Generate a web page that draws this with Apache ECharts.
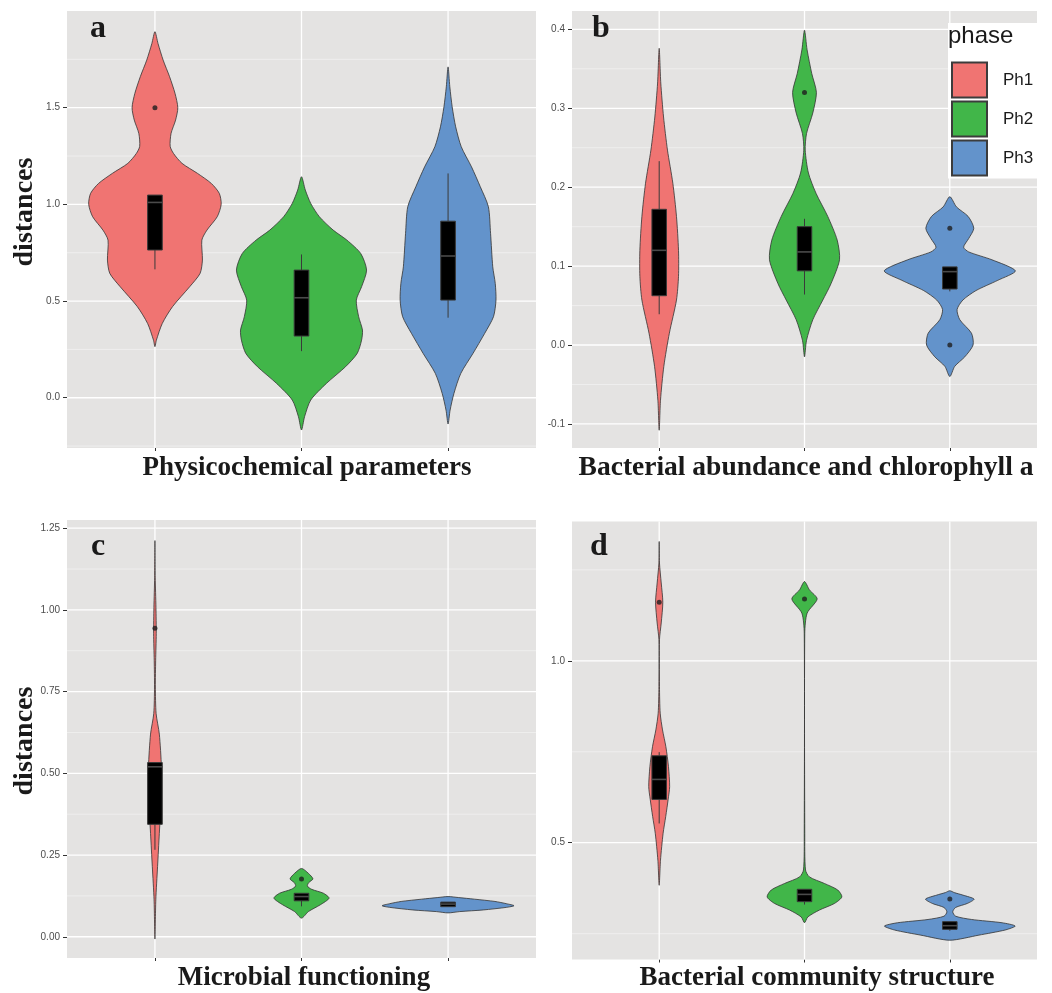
<!DOCTYPE html>
<html>
<head>
<meta charset="utf-8">
<script src="https://cdn.jsdelivr.net/npm/echarts@6/dist/echarts.min.js"></script>
<style>
  html, body { margin: 0; padding: 0; background: #ffffff; }
  #chart { width: 1052px; height: 993px; }
</style>
</head>
<body>
<div id="chart"></div>
<script>
// ---------------- DATA ----------------
const phases = ['Ph1', 'Ph2', 'Ph3'];
const phaseColors = ['#F07472', '#41B649', '#6393CB'];
const categoryPos = [1, 2, 3];
const panelLetters = ['a', 'b', 'c', 'd'];
const panelTitles = ['Physicochemical parameters', 'Bacterial abundance and chlorophyll a',
                     'Microbial functioning', 'Bacterial community structure'];
const yTitle = 'distances';
const legendTitle = 'phase';

// y ticks (values + labels), minor gridlines, axis extents
const yTicksA = [0, 0.5, 1.0, 1.5];
const yLabelsA = ['0.0', '0.5', '1.0', '1.5'];
const yMinorA = [-0.25, 0.25, 0.75, 1.25, 1.75];
const yRangeA = [-0.26, 2.0];

const yTicksB = [-0.1, 0, 0.1, 0.2, 0.3, 0.4];
const yLabelsB = ['-0.1', '0.0', '0.1', '0.2', '0.3', '0.4'];
const yMinorB = [-0.05, 0.05, 0.15, 0.25, 0.35];
const yRangeB = [-0.1305, 0.4233];

const yTicksC = [0, 0.25, 0.5, 0.75, 1.0, 1.25];
const yLabelsC = ['0.00', '0.25', '0.50', '0.75', '1.00', '1.25'];
const yMinorC = [0.125, 0.375, 0.625, 0.875, 1.125];
const yRangeC = [-0.065, 1.275];

const yTicksD = [0.5, 1.0];
const yLabelsD = ['0.5', '1.0'];
const yMinorD = [0.25, 0.75, 1.25];
const yRangeD = [0.179, 1.383];

// violin profiles: [distance, half-width in category units], bottom to top
const a_ph1 = [[0.264,0],[0.298,0.01],[0.384,0.05],[0.471,0.12],[0.574,0.237],[0.643,0.308],[0.712,0.324],[0.815,0.32],[0.867,0.355],[0.936,0.425],[1.0,0.452],[1.057,0.439],[1.108,0.385],[1.160,0.291],[1.212,0.185],[1.263,0.127],[1.30,0.104],[1.367,0.110],[1.436,0.141],[1.5,0.156],[1.574,0.137],[1.660,0.100],[1.746,0.056],[1.832,0.021],[1.893,0]];
const a_ph2 = [[-0.167,0],[-0.098,0.021],[-0.012,0.063],[0.074,0.17],[0.160,0.30],[0.229,0.38],[0.298,0.41],[0.35,0.416],[0.419,0.39],[0.505,0.374],[0.574,0.41],[0.660,0.444],[0.746,0.404],[0.815,0.31],[0.867,0.216],[0.936,0.122],[1.005,0.063],[1.074,0.026],[1.143,0]];
const a_ph3 = [[-0.136,0],[-0.064,0.014],[0.022,0.04],[0.126,0.087],[0.229,0.17],[0.333,0.25],[0.419,0.31],[0.505,0.327],[0.591,0.322],[0.677,0.305],[0.850,0.29],[0.988,0.275],[1.091,0.22],[1.194,0.16],[1.298,0.09],[1.401,0.052],[1.505,0.028],[1.608,0.012],[1.711,0]];

const b_ph1 = [[-0.108,0],[-0.070,0.009],[-0.027,0.032],[0.015,0.07],[0.057,0.119],[0.087,0.133],[0.120,0.133],[0.163,0.119],[0.205,0.094],[0.247,0.057],[0.289,0.03],[0.332,0.011],[0.376,0]];
const b_ph2 = [[-0.015,0],[0.006,0.014],[0.032,0.057],[0.057,0.126],[0.078,0.183],[0.108,0.241],[0.133,0.225],[0.163,0.160],[0.192,0.080],[0.218,0.027],[0.247,0.005],[0.268,0.014],[0.294,0.057],[0.320,0.082],[0.344,0.050],[0.374,0.018],[0.399,0]];
const b_ph3 = [[-0.040,0],[-0.027,0.034],[-0.015,0.103],[0.0,0.160],[0.015,0.149],[0.032,0.069],[0.045,0.05],[0.057,0.09],[0.069,0.18],[0.082,0.33],[0.094,0.451],[0.108,0.29],[0.118,0.13],[0.124,0.095],[0.135,0.13],[0.148,0.165],[0.163,0.126],[0.175,0.046],[0.188,0]];

const c_ph1 = [[-0.007,0],[0.113,0.006],[0.215,0.018],[0.316,0.03],[0.418,0.042],[0.520,0.044],[0.620,0.03],[0.683,0.008],[0.764,0.003],[0.846,0.005],[0.927,0.009],[1.008,0.007],[1.1,0.002],[1.212,0]];
const c_ph2 = [[0.057,0],[0.077,0.047],[0.098,0.129],[0.118,0.188],[0.133,0.15],[0.145,0.07],[0.155,0.04],[0.166,0.05],[0.177,0.078],[0.194,0.047],[0.209,0]];
const c_ph3 = [[0.073,0],[0.077,0.08],[0.082,0.24],[0.090,0.40],[0.095,0.45],[0.101,0.40],[0.108,0.32],[0.115,0.18],[0.120,0.07],[0.123,0]];

const d_ph1 = [[0.383,0],[0.452,0.009],[0.526,0.027],[0.572,0.045],[0.620,0.062],[0.654,0.072],[0.709,0.064],[0.764,0.046],[0.810,0.023],[0.856,0.007],[0.929,0.002],[1.058,0.002],[1.104,0.014],[1.161,0.025],[1.214,0.014],[1.269,0.002],[1.328,0]];
const d_ph2 = [[0.280,0],[0.296,0.023],[0.315,0.103],[0.333,0.206],[0.351,0.257],[0.370,0.229],[0.388,0.137],[0.406,0.034],[0.425,0.007],[0.526,0.002],[1.076,0.002],[1.131,0.018],[1.170,0.087],[1.195,0.034],[1.218,0]];
const d_ph3 = [[0.232,0],[0.246,0.2],[0.26,0.38],[0.271,0.45],[0.28,0.36],[0.289,0.15],[0.298,0.04],[0.31,0.02],[0.322,0.04],[0.333,0.12],[0.345,0.167],[0.356,0.09],[0.363,0.03],[0.368,0]];

// boxplots: [category, lower whisker, Q1, median, Q3, upper whisker]
const boxA = [[1,0.664,0.764,1.01,1.048,1.048],[2,0.241,0.319,0.517,0.660,0.741],[3,0.414,0.505,0.733,0.913,1.160]];
const boxB = [[1,0.039,0.0625,0.120,0.172,0.233],[2,0.064,0.094,0.118,0.150,0.160],[3,0.068,0.071,0.093,0.099,0.099]];
const boxC = [[1,0.266,0.344,0.52,0.533,0.533],[2,0.093,0.11,0.123,0.133,0.133],[3,0.092,0.092,0.1,0.106,0.106]];
const boxD = [[1,0.553,0.619,0.674,0.739,0.749],[2,0.33,0.338,0.358,0.372,0.372],[3,0.258,0.262,0.272,0.283,0.283]];

// outliers: [category, distance]
const outA = [[1,1.5]];
const outB = [[2,0.320],[3,0.148],[3,0.0]];
const outC = [[1,0.944],[2,0.177]];
const outD = [[1,1.161],[2,1.17],[3,0.345]];

// ---------------- CHART ----------------
const X_MIN = 0.4, X_MAX = 3.6, BOX_HALF = 0.05;
const SERIF = '"Liberation Serif", "Times New Roman", serif';
const SANS = '"Liberation Sans", Arial, sans-serif';

const panels = [
  { grid: {left: 67, top: 11, width: 469, height: 437}, ticks: yTicksA, labels: yLabelsA, minor: yMinorA, range: yRangeA, violins: [a_ph1, a_ph2, a_ph3], box: boxA, out: outA },
  { grid: {left: 572, top: 11, width: 465, height: 437}, ticks: yTicksB, labels: yLabelsB, minor: yMinorB, range: yRangeB, violins: [b_ph1, b_ph2, b_ph3], box: boxB, out: outB },
  { grid: {left: 67, top: 520, width: 469, height: 438}, ticks: yTicksC, labels: yLabelsC, minor: yMinorC, range: yRangeC, violins: [c_ph1, c_ph2, c_ph3], box: boxC, out: outC },
  { grid: {left: 572, top: 521.5, width: 465, height: 438}, ticks: yTicksD, labels: yLabelsD, minor: yMinorD, range: yRangeD, violins: [d_ph1, d_ph2, d_ph3], box: boxD, out: outD }
];

const grids = [], xAxes = [], yAxes = [], series = [];

function line(a, b, stroke, lw) {
  return { type: 'line', shape: { x1: a[0], y1: a[1], x2: b[0], y2: b[1] }, style: { stroke: stroke, lineWidth: lw } };
}

panels.forEach((p, i) => {
  grids.push(Object.assign({ show: true, backgroundColor: '#E4E3E2', borderWidth: 0, containLabel: false }, p.grid));
  xAxes.push({
    type: 'value', gridIndex: i, min: X_MIN, max: X_MAX, position: 'bottom',
    axisLine: { show: false, onZero: false }, splitLine: { show: false }, axisLabel: { show: false },
    axisTick: { show: true, customValues: categoryPos, length: 3, lineStyle: { color: '#333', width: 1 } }
  });
  const labs = p.labels, tks = p.ticks;
  yAxes.push({
    type: 'value', gridIndex: i, min: p.range[0], max: p.range[1], position: 'left',
    axisLine: { show: false, onZero: false }, splitLine: { show: false },
    axisTick: { show: true, customValues: tks, length: 4, lineStyle: { color: '#333', width: 1 } },
    axisLabel: {
      customValues: tks, margin: 7, fontSize: 10, color: '#4D4D4D', fontFamily: SANS,
      formatter: v => { let k = 0; tks.forEach((t, j) => { if (Math.abs(t - v) < Math.abs(tks[k] - v)) k = j; }); return labs[k]; }
    }
  });
  // gridlines
  series.push({
    type: 'custom', xAxisIndex: i, yAxisIndex: i, silent: true, z: 1,
    data: [[categoryPos[0], tks[0]]],
    renderItem: (params, api) => {
      const ch = [];
      p.minor.forEach(v => ch.push(line(api.coord([X_MIN, v]), api.coord([X_MAX, v]), '#F3F3F3', 0.7)));
      tks.forEach(v => ch.push(line(api.coord([X_MIN, v]), api.coord([X_MAX, v]), '#FFFFFF', 1.3)));
      categoryPos.forEach(c => ch.push(line(api.coord([c, p.range[0]]), api.coord([c, p.range[1]]), '#FFFFFF', 1.3)));
      return { type: 'group', children: ch };
    }
  });
  // violins
  p.violins.forEach((prof, k) => {
    const cat = categoryPos[k];
    series.push({
      type: 'custom', name: phases[k], xAxisIndex: i, yAxisIndex: i, silent: true, z: 2,
      itemStyle: { color: phaseColors[k] },
      data: [[cat, prof[0][0]]],
      renderItem: (params, api) => {
        const right = prof.map(d => api.coord([cat + d[1], d[0]]));
        const left = prof.slice(1, -1).reverse().map(d => api.coord([cat - d[1], d[0]]));
        return {
          type: 'polygon', shape: { points: right.concat(left), smooth: 0.25 },
          style: { fill: phaseColors[k], stroke: '#333333', lineWidth: 0.8 }
        };
      }
    });
  });
  // boxplots
  series.push({
    type: 'custom', xAxisIndex: i, yAxisIndex: i, silent: true, z: 3,
    data: p.box,
    renderItem: (params, api) => {
      const c = api.value(0), lo = api.value(1), q1 = api.value(2), med = api.value(3), q3 = api.value(4), hi = api.value(5);
      const tl = api.coord([c - BOX_HALF, q3]), br = api.coord([c + BOX_HALF, q1]);
      return {
        type: 'group', children: [
          line(api.coord([c, lo]), api.coord([c, q1]), '#3A3A3A', 1),
          line(api.coord([c, q3]), api.coord([c, hi]), '#3A3A3A', 1),
          { type: 'rect', shape: { x: tl[0], y: tl[1], width: br[0] - tl[0], height: br[1] - tl[1] },
            style: { fill: '#000000', stroke: '#3A3A3A', lineWidth: 1 } },
          line(api.coord([c - BOX_HALF, med]), api.coord([c + BOX_HALF, med]), '#4A4A4A', 1.6)
        ]
      };
    }
  });
  // outliers
  series.push({
    type: 'scatter', xAxisIndex: i, yAxisIndex: i, silent: true, z: 4,
    symbol: 'circle', symbolSize: 5, itemStyle: { color: '#1E1E1E' },
    data: p.out
  });
});

const textStyleSerif = (size) => ({ font: 'bold ' + size + 'px ' + SERIF, fill: '#1A1A1A' });
const graphics = [];
const letterPos = [[90, 28.5], [592, 29.2], [91, 546.5], [590, 546.5]];
panelLetters.forEach((t, i) => graphics.push({
  type: 'text', x: letterPos[i][0], y: letterPos[i][1], z: 20,
  style: Object.assign({ text: t, textAlign: 'left', textVerticalAlign: 'middle' }, textStyleSerif(32))
}));
const titlePos = [[307, 468], [806, 468], [304, 978], [817, 978]];
const titleSizes = [27, 27.5, 27, 27];
panelTitles.forEach((t, i) => graphics.push({
  type: 'text', x: titlePos[i][0], y: titlePos[i][1], z: 20,
  style: Object.assign({ text: t, textAlign: 'center', textVerticalAlign: 'middle' }, textStyleSerif(titleSizes[i]))
}));
[[25, 212], [25, 741]].forEach(pos => graphics.push({
  type: 'text', x: pos[0], y: pos[1], rotation: Math.PI / 2, z: 20,
  style: Object.assign({ text: yTitle, textAlign: 'center', textVerticalAlign: 'middle' }, textStyleSerif(28))
}));
graphics.push({
  type: 'text', x: 948, y: 36, z: 30,
  style: { text: legendTitle, textAlign: 'left', textVerticalAlign: 'middle', font: '24px ' + SANS, fill: '#1A1A1A' }
});

const chart = echarts.init(document.getElementById('chart'), null, { renderer: 'canvas' });
chart.setOption({
  animation: false,
  backgroundColor: '#FFFFFF',
  grid: grids,
  xAxis: xAxes,
  yAxis: yAxes,
  series: series,
  legend: {
    data: phases, orient: 'vertical', left: 948, top: 23,
    padding: [38.5, 4, 2, 3], itemGap: 2, itemWidth: 35, itemHeight: 35,
    icon: 'rect', backgroundColor: '#FFFFFF', selectedMode: false, z: 25,
    itemStyle: { borderColor: '#3C3C3C', borderWidth: 2 },
    textStyle: { fontSize: 17, fontFamily: SANS, color: '#1A1A1A', padding: [0, 0, 0, 11] }
  },
  graphic: graphics
});
</script>
</body>
</html>
